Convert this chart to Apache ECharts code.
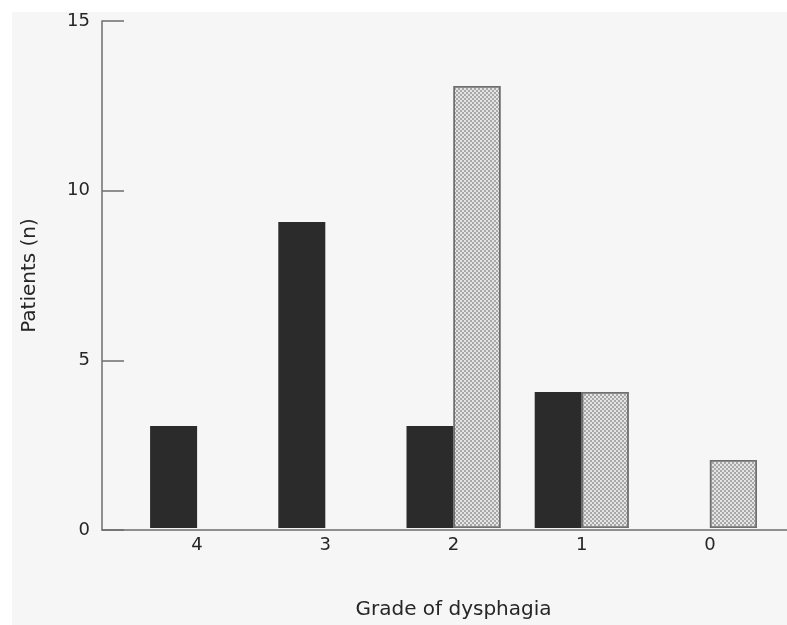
<!DOCTYPE html>
<html>
<head>
<meta charset="utf-8">
<script src="https://cdn.jsdelivr.net/npm/echarts@6/dist/echarts.min.js"></script>
<style>
  html, body { margin: 0; padding: 0; background: #ffffff; }
  #chart { position: absolute; left: 12px; top: 12px; width: 775px; height: 613px; background: #f6f6f6; }
</style>
</head>
<body>
<div id="chart"></div>
<script>
// Grade of dysphagia, listed from worst (4) to none (0)
const grades = ['4', '3', '2', '1', '0'];
// Number of patients at each grade, before and after treatment
const beforeCounts = [3, 9, 3, 4, 0];
const afterCounts = [0, 0, 13, 4, 2];
// Patient-count axis
const yMin = 0;
const yMax = 15;
const yStep = 5;

const font = 'DejaVu Sans';
const axisGrey = '#6e6e6e';
const textColor = '#262626';

// empty groups get no outline so nothing is stroked along the baseline
const asBars = (values, style) => values.map(v =>
  v === 0 ? { value: v, itemStyle: { borderWidth: 0 } } : v);

const chart = echarts.init(document.getElementById('chart'), null, { renderer: 'canvas' });

chart.setOption({
  backgroundColor: 'transparent',
  animation: false,
  grid: [
    // frame grid: carries the L-shaped axes across the full width
    { left: 88, right: 0, top: 6, bottom: 95 },
    // bar grid: five grade bands
    { left: 121, right: 13, top: 6, bottom: 95 }
  ],
  xAxis: [
    {
      gridIndex: 0, type: 'value', min: 0, max: 1,
      axisLine: { show: true, lineStyle: { color: axisGrey, width: 1.5 } },
      axisTick: { show: false }, axisLabel: { show: false }, splitLine: { show: false }
    },
    {
      gridIndex: 1, type: 'category', data: grades,
      name: 'Grade of dysphagia', nameLocation: 'middle', nameGap: 72,
      nameTextStyle: { fontFamily: font, fontSize: 20, color: textColor },
      axisLine: { show: false }, axisTick: { show: false },
      axisLabel: { fontFamily: font, fontSize: 18, color: textColor, margin: 8 }
    }
  ],
  yAxis: [
    {
      gridIndex: 0, type: 'value', min: yMin, max: yMax, interval: yStep,
      name: 'Patients (n)', nameLocation: 'middle', nameGap: 62, nameRotate: 90,
      nameTextStyle: { fontFamily: font, fontSize: 20, color: textColor },
      axisLine: { show: true, lineStyle: { color: axisGrey, width: 1.5 } },
      axisTick: { show: true, inside: true, length: 22, lineStyle: { color: axisGrey, width: 1.5 } },
      axisLabel: { fontFamily: font, fontSize: 18, color: textColor, margin: 12 },
      splitLine: { show: false }
    },
    {
      gridIndex: 1, type: 'value', min: yMin, max: yMax, interval: yStep,
      show: false
    }
  ],
  series: [
    {
      name: 'Before', type: 'bar', xAxisIndex: 1, yAxisIndex: 1,
      data: asBars(beforeCounts), barWidth: 47, barGap: '0%',
      itemStyle: { color: '#2b2b2b' }
    },
    {
      name: 'After', type: 'bar', xAxisIndex: 1, yAxisIndex: 1,
      data: asBars(afterCounts), barWidth: 47, barGap: '0%',
      itemStyle: {
        color: '#e4e4e4',
        borderColor: '#6f6f6f',
        borderWidth: 1.5,
        decal: {
          symbol: 'rect', symbolSize: 1, color: '#a8a8a8', rotation: 0,
          dashArrayX: [[2, 2], [0, 2, 2, 0]], dashArrayY: [2, 0]
        }
      }
    }
  ]
});
</script>
</body>
</html>
